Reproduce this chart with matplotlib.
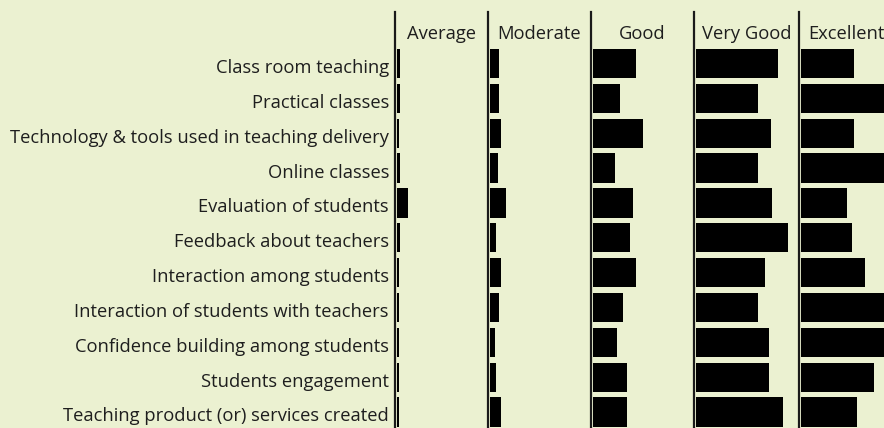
import matplotlib
matplotlib.use('Agg')
import matplotlib.pyplot as plt

# Rating categories (panels) and the aspects rated
ratings = ['Average', 'Moderate', 'Good', 'Very Good', 'Excellent']
aspects = ['Class room teaching', 'Practical classes',
           'Technology & tools used in teaching delivery', 'Online classes',
           'Evaluation of students', 'Feedback about teachers',
           'Interaction among students', 'Interaction of students with teachers',
           'Confidence building among students', 'Students engagement',
           'Teaching product (or) services created']

# percentage of respondents per rating
average   = [1.3, 1.6, 1.2, 1.6, 5.9, 1.6, 1.2, 1.2, 1.2, 1.2, 1.2]
moderate  = [4.9, 4.9, 5.9, 4.4, 8.6, 3.3, 5.9, 4.9, 2.8, 3.3, 5.9]
good      = [22.6, 14.4, 26.3, 11.7, 21.2, 19.6, 22.8, 15.9, 12.8, 18.1, 18.1]
very_good = [43.2, 32.6, 39.5, 32.6, 40.0, 48.4, 36.3, 32.6, 38.4, 38.4, 45.8]
excellent = [27.7, 46.5, 27.9, 49.7, 24.2, 26.8, 33.7, 45.4, 43.5, 38.4, 29.5]
series = [average, moderate, good, very_good, excellent]

BG = '#EBF1D1'
W, H = 884, 428
fig = plt.figure(figsize=(W / 100, H / 100), dpi=100, facecolor=BG)
plt.rcParams['font.family'] = ['Open Sans', 'DejaVu Sans']

line_x = [395, 488, 591, 694, 799, W]
header_cx = [441.5, 539.5, 642.5, 746.5, 846]
px_per_unit = 1.9
top_px = 12
row0, row_step = 63.5, 34.85
ylim = ((H - row0) / row_step, (top_px - row0) / row_step)
FS = 13.2

for k, (name, vals) in enumerate(zip(ratings, series)):
    x0 = line_x[k]
    wpx = line_x[k + 1] - x0
    ax = fig.add_axes([x0 / W, 0, wpx / W, (H - top_px) / H])
    ax.set_facecolor(BG)
    ax.barh(range(len(vals)), vals, height=0.84, color='black')
    ax.set_xlim(-1.1, -1.1 + wpx / px_per_unit)
    ax.set_ylim(*ylim)
    for s in ['top', 'right', 'bottom']:
        ax.spines[s].set_visible(False)
    ax.spines['left'].set_linewidth(1.6)
    ax.spines['left'].set_color('#1a1a1a')
    ax.set_xticks([])
    ax.set_yticks([])
    fig.text(header_cx[k] / W, 1 - 34 / H, name, ha='center', va='center',
             fontsize=FS, color='#1e1e1e')
    if k == 0:
        for i, lab in enumerate(aspects):
            ax.annotate(lab, xy=(0, i), xycoords=('axes fraction', 'data'),
                        xytext=(-6, -4.5), textcoords='offset pixels',
                        ha='right', va='center', fontsize=FS, color='#1e1e1e',
                        annotation_clip=False)

fig.savefig('out.png', dpi=100, facecolor=BG)
